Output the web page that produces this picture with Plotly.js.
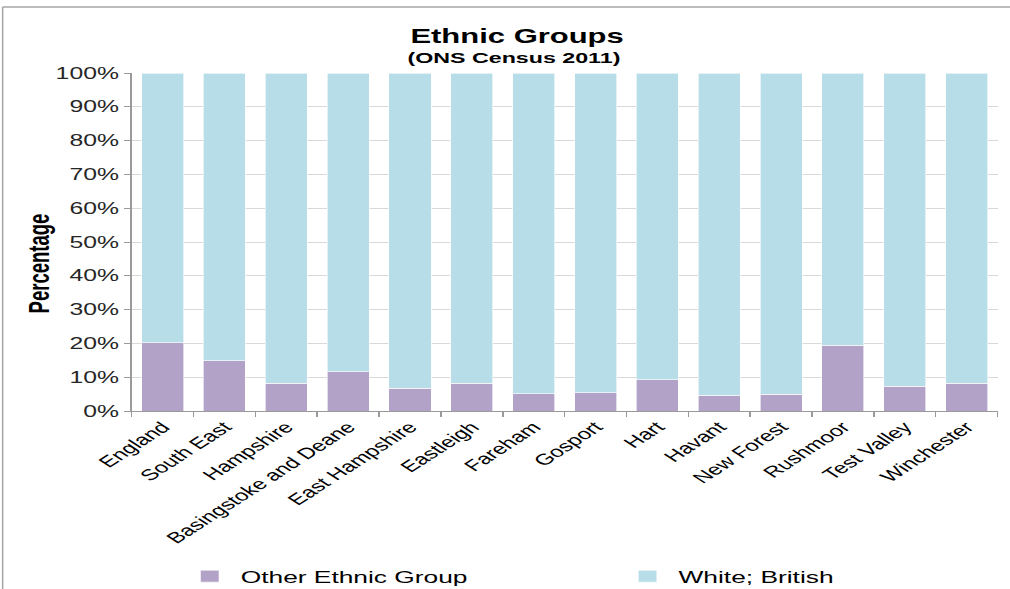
<!DOCTYPE html>
<html>
<head>
<meta charset="utf-8">
<script src="https://cdn.plot.ly/plotly-3.0.1.min.js"></script>
<style>
html,body{margin:0;padding:0;background:#fff;overflow:hidden;}
#chart{width:652px;height:589px;transform:scaleX(1.549);transform-origin:0 0;}
</style>
</head>
<body>
<div id="chart"></div>
<script>
const categories = ["England","South East","Hampshire","Basingstoke and Deane","East Hampshire","Eastleigh","Fareham","Gosport","Hart","Havant","New Forest","Rushmoor","Test Valley","Winchester"];
const otherEthnic = [20.2, 14.8, 8.2, 11.6, 6.7, 8.2, 5.1, 5.4, 9.3, 4.6, 4.9, 19.4, 7.3, 8.2];
const whiteBritish = otherEthnic.map(v => 100 - v);
const yTickVals = [0,10,20,30,40,50,60,70,80,90,100];
const yTickText = ["0%","10%","20%","30%","40%","50%","60%","70%","80%","90%","100%"];

const FONT = "Liberation Sans, Arial, sans-serif";

const traces = [
  {type:"bar", name:"Other Ethnic Group", x:categories, y:otherEthnic, legend:"legend",
   marker:{color:"#b3a2c7", line:{color:"#ffffff", width:0.5}}, hoverinfo:"x+y"},
  {type:"bar", name:"White; British", x:categories, y:whiteBritish, legend:"legend2",
   marker:{color:"#b7dde8", line:{color:"#ffffff", width:0.5}}, hoverinfo:"x+y"}
];

const layout = {
  width:652, height:589,
  margin:{l:85, r:8, t:73, b:178},
  paper_bgcolor:"#ffffff", plot_bgcolor:"#ffffff",
  barmode:"stack", bargap:0.32,
  font:{family:FONT, color:"#000"},
  title:{text:"<b>Ethnic Groups</b>", xref:"container", yref:"container", x:0.512, xanchor:"center", y:0.939, yanchor:"middle",
         font:{size:20, family:FONT, color:"#000"}},
  annotations:[
    {text:"<b>(ONS Census 2011)</b>", xref:"paper", yref:"paper", x:0.441, y:1.047,
     xanchor:"center", yanchor:"middle", showarrow:false,
     font:{size:15, family:FONT, color:"#000"}},
    {text:"<b>Percentage</b>", xref:"paper", yref:"paper", x:-0.1065, y:0.438,
     xanchor:"center", yanchor:"middle", showarrow:false, textangle:-90,
     font:{size:18.5, family:FONT, color:"#000"}}
  ],
  xaxis:{type:"category", tickangle:-45, tickfont:{size:15.5, color:"#000"},
         ticks:"outside", tickson:"boundaries", ticklen:5, tickcolor:"#9a9a9a",
         showline:true, linecolor:"#9a9a9a", linewidth:1, showgrid:false, automargin:false},
  yaxis:{range:[0,100], tickvals:yTickVals, ticktext:yTickText, tickfont:{size:16, color:"#262626"},
         ticks:"outside", ticklen:4, tickcolor:"#9a9a9a",
         showline:true, linecolor:"#9a9a9a", linewidth:1,
         showgrid:true, gridcolor:"#d9d9d9", gridwidth:1, zeroline:false,
         automargin:false},
  legend:{orientation:"h", xref:"container", yref:"container", x:0.177, xanchor:"left", y:0.021, yanchor:"middle",
          font:{size:17, color:"#000"}, bgcolor:"rgba(0,0,0,0)", borderwidth:0},
  legend2:{orientation:"h", xref:"container", yref:"container", x:0.6105, xanchor:"left", y:0.021, yanchor:"middle",
          font:{size:17, color:"#000"}, bgcolor:"rgba(0,0,0,0)", borderwidth:0},
  shapes:[
    {type:"line", xref:"paper", yref:"paper", x0:-0.149, x1:1.05, y0:1.195, y1:1.195, line:{color:"#a6a6a6", width:1.5}},
    {type:"line", xref:"paper", yref:"paper", x0:-0.149, x1:-0.149, y0:1.195, y1:-0.6, line:{color:"#a6a6a6", width:1}}
  ],
  showlegend:true
};

Plotly.newPlot("chart", traces, layout, {displayModeBar:false, staticPlot:true});
</script>
</body>
</html>
